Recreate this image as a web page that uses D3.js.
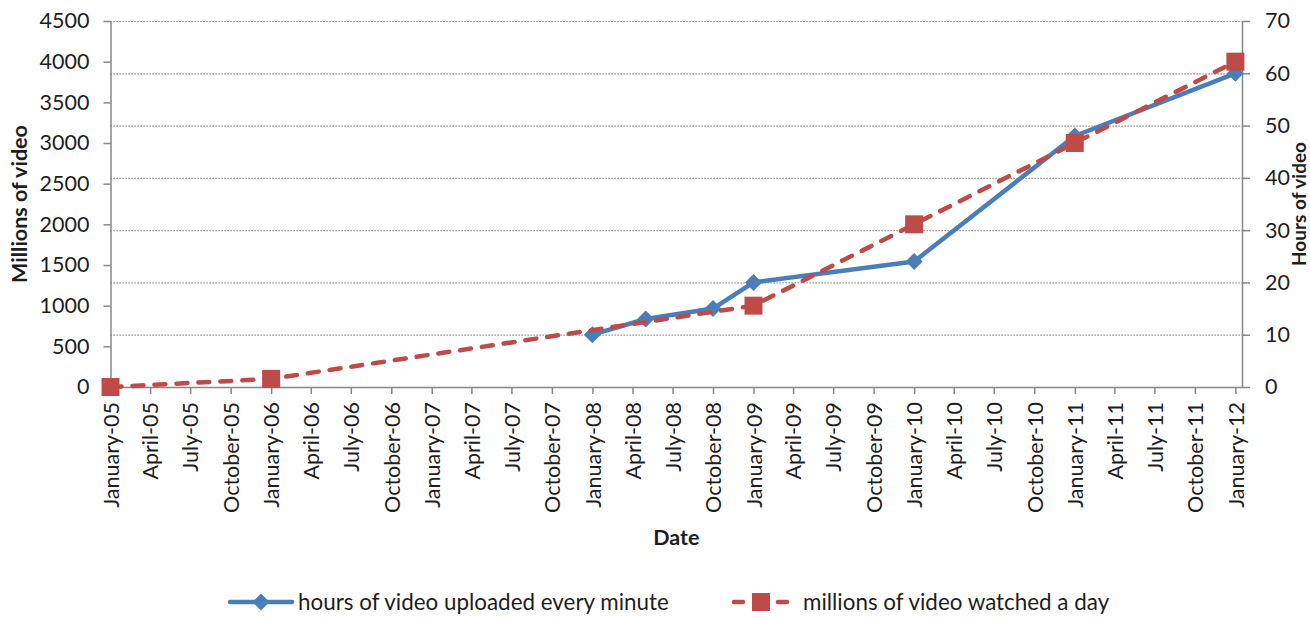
<!DOCTYPE html>
<html>
<head>
<meta charset="utf-8">
<script src="https://cdn.jsdelivr.net/npm/d3@7/dist/d3.min.js"></script>
<style>
  html, body { margin: 0; padding: 0; background: #ffffff; }
  svg { display: block; font-family: Lato, "Open Sans", sans-serif; }
</style>
</head>
<body>
<svg id="chart" width="1310" height="617"></svg>
<script>
// ---- data ----
const xTickLabels = [
  "January-05","April-05","July-05","October-05",
  "January-06","April-06","July-06","October-06",
  "January-07","April-07","July-07","October-07",
  "January-08","April-08","July-08","October-08",
  "January-09","April-09","July-09","October-09",
  "January-10","April-10","July-10","October-10",
  "January-11","April-11","July-11","October-11",
  "January-12"
];
const leftTicks = [0, 500, 1000, 1500, 2000, 2500, 3000, 3500, 4000, 4500];
const rightTicks = [0, 10, 20, 30, 40, 50, 60, 70];

const uploadDates = ["2008-01", "2008-05", "2008-10", "2009-01", "2010-01", "2011-01", "2012-01"];
const uploadHours = [10, 13, 15, 20, 24, 48, 60];

const watchDates = ["2005-01", "2006-01", "2009-01", "2010-01", "2011-01", "2012-01"];
const watchMillions = [0, 100, 1000, 2000, 3000, 4000];

const seriesNames = ["hours of video uploaded every minute", "millions of video watched a day"];
const axisTitles = { left: "Millions of video", right: "Hours of video", bottom: "Date" };

// ---- setup ----
const svg = d3.select("#chart");
const L = 110.5, R = 1242, T = 21, B = 387;
const textColor = "#1e1e1e";
const axisColor = "#878787";
const blue = "#4a7ebb";
const red = "#be4b48";
const tickFont = "21.5px";

const parseMonth = d3.timeParse("%Y-%m");
const parseTick = d3.timeParse("%B-%y");
const fmtTick = d3.timeFormat("%B-%y");

const tickDates = xTickLabels.map(parseTick);
const x = d3.scaleTime()
  .domain([new Date(2005, 0, 1), new Date(2012, 0, 16)])
  .range([L, R]);
const yL = d3.scaleLinear().domain([0, 4500]).range([B, T]);
const yR = d3.scaleLinear().domain([0, 70]).range([B, T]);

const upload = uploadDates.map((d, i) => ({ date: parseMonth(d), v: uploadHours[i] }));
const watch = watchDates.map((d, i) => ({ date: parseMonth(d), v: watchMillions[i] }));

// ---- gridlines (right axis ticks) ----
const grid = svg.append("g")
  .attr("transform", `translate(${L},0)`)
  .call(d3.axisRight(yR).tickValues(rightTicks.filter(v => v > 0)).tickSize(R - L).tickFormat(""));
grid.select(".domain").remove();
grid.selectAll("line")
  .attr("stroke", "#7a7a7a").attr("stroke-width", 1.2).attr("stroke-dasharray", "1.2,1.8");

// ---- left axis ----
const gL = svg.append("g")
  .attr("transform", `translate(${L},0)`)
  .call(d3.axisLeft(yL).tickValues(leftTicks).tickFormat(d3.format("d")).tickSize(7).tickPadding(14).tickSizeOuter(0));
gL.select(".domain").attr("stroke", axisColor).attr("stroke-width", 1.5);
gL.selectAll(".tick line").attr("stroke", axisColor).attr("stroke-width", 1.5);
gL.selectAll(".tick text").attr("fill", textColor).style("font-size", tickFont).attr("font-family", "Lato");

// ---- right axis ----
const gR = svg.append("g")
  .attr("transform", `translate(${R},0)`)
  .call(d3.axisRight(yR).tickValues(rightTicks).tickFormat(d3.format("d")).tickSize(8).tickPadding(15).tickSizeOuter(0));
gR.select(".domain").attr("stroke", axisColor).attr("stroke-width", 1.5);
gR.selectAll(".tick line").attr("stroke", axisColor).attr("stroke-width", 1.5);
gR.selectAll(".tick text").attr("fill", textColor).style("font-size", tickFont).attr("font-family", "Lato");

// ---- bottom axis ----
const gB = svg.append("g")
  .attr("transform", `translate(0,${B})`)
  .call(d3.axisBottom(x).tickValues(tickDates).tickFormat(fmtTick).tickSize(7).tickPadding(8).tickSizeOuter(0));
gB.select(".domain").attr("stroke", axisColor).attr("stroke-width", 1.5);
gB.selectAll(".tick line").attr("stroke", axisColor).attr("stroke-width", 1.5);
gB.selectAll(".tick text")
  .attr("fill", textColor).style("font-size", tickFont).attr("font-family", "Lato")
  .attr("text-anchor", "end")
  .attr("transform", "rotate(-90)")
  .attr("x", -15).attr("y", 0).attr("dy", "0.36em");

// ---- axis titles ----
const midY = (T + B) / 2;
svg.append("text")
  .attr("transform", `translate(27,${midY}) rotate(-90)`)
  .attr("text-anchor", "middle")
  .attr("fill", textColor).style("font-size", "21.5px").style("font-weight", "bold")
  .text(axisTitles.left);
svg.append("text")
  .attr("transform", `translate(1306,${midY}) rotate(-90)`)
  .attr("text-anchor", "middle")
  .attr("fill", textColor).style("font-size", "19px").style("font-weight", "bold")
  .text(axisTitles.right);
svg.append("text")
  .attr("x", (L + R) / 2).attr("y", 545)
  .attr("text-anchor", "middle")
  .attr("fill", textColor).style("font-size", "21.5px").style("font-weight", "bold")
  .text(axisTitles.bottom);

// ---- series: uploads (blue, right axis) ----
const lineUp = d3.line().x(d => x(d.date)).y(d => yR(d.v));
svg.append("path").datum(upload)
  .attr("d", lineUp).attr("fill", "none")
  .attr("stroke", blue).attr("stroke-width", 4.5).attr("stroke-linejoin", "round").attr("stroke-linecap", "round");
const diamond = d3.symbol().type(d3.symbolSquare).size(145);
svg.append("g").selectAll("path").data(upload).join("path")
  .attr("d", diamond)
  .attr("transform", d => `translate(${x(d.date)},${yR(d.v)}) rotate(45)`)
  .attr("fill", blue);

// ---- series: watched (red, left axis) ----
const lineW = d3.line().x(d => x(d.date)).y(d => yL(d.v));
svg.append("path").datum(watch)
  .attr("d", lineW).attr("fill", "none")
  .attr("stroke", red).attr("stroke-width", 4.5)
  .attr("stroke-dasharray", "11,11").attr("stroke-linecap", "round").attr("stroke-linejoin", "round");
const square = d3.symbol().type(d3.symbolSquare).size(18 * 18);
svg.append("g").selectAll("path").data(watch).join("path")
  .attr("d", square)
  .attr("transform", d => `translate(${x(d.date)},${yL(d.v)})`)
  .attr("fill", red);

// ---- legend ----
const legY = 602;
const legFont = "22.4px";
const leg = svg.append("g");
leg.append("line").attr("x1", 230).attr("x2", 292).attr("y1", legY).attr("y2", legY)
  .attr("stroke", blue).attr("stroke-width", 4.5).attr("stroke-linecap", "round");
leg.append("path").attr("d", diamond).attr("transform", `translate(261,${legY}) rotate(45)`).attr("fill", blue);
leg.append("text").attr("x", 298).attr("y", legY + 8)
  .attr("fill", textColor).style("font-size", legFont).text(seriesNames[0]);

leg.append("line").attr("x1", 734).attr("x2", 789).attr("y1", legY).attr("y2", legY)
  .attr("stroke", red).attr("stroke-width", 4.5)
  .attr("stroke-dasharray", "9,13").attr("stroke-linecap", "round");
leg.append("path").attr("d", square).attr("transform", `translate(761,${legY})`).attr("fill", red);
leg.append("text").attr("x", 803).attr("y", legY + 8)
  .attr("fill", textColor).style("font-size", legFont).text(seriesNames[1]);
</script>
</body>
</html>
